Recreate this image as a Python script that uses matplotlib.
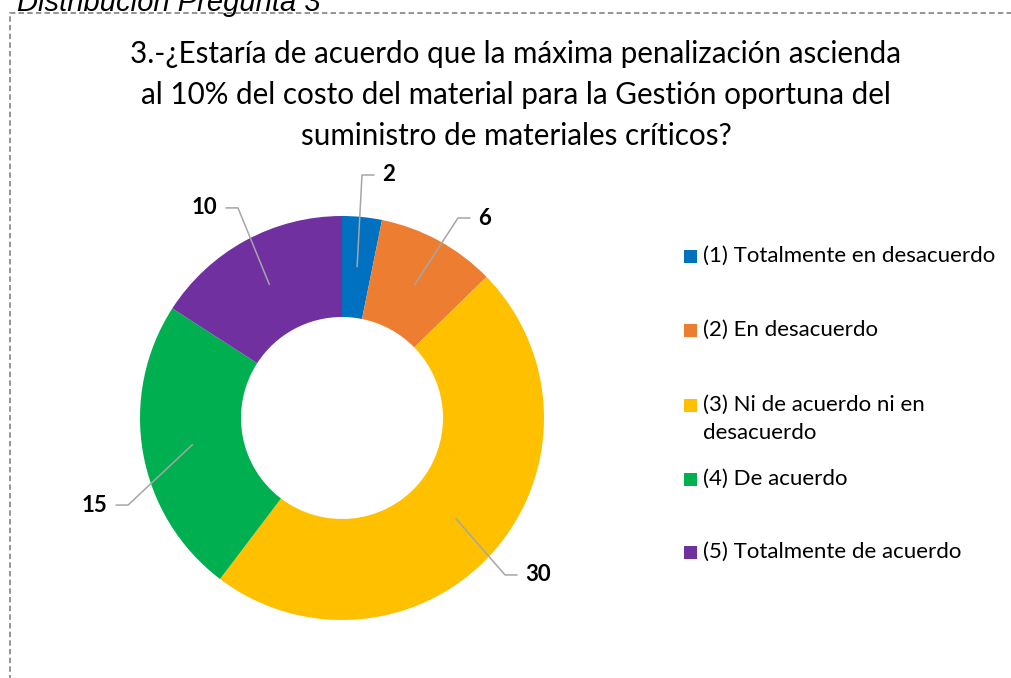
import matplotlib
matplotlib.use("Agg")
import matplotlib.pyplot as plt
import numpy as np
from matplotlib.patches import Rectangle

categories = ["(1) Totalmente en desacuerdo", "(2) En desacuerdo",
              "(3) Ni de acuerdo ni en\ndesacuerdo", "(4) De acuerdo",
              "(5) Totalmente de acuerdo"]
values = [2, 6, 30, 15, 10]
colors = ["#0070C0", "#ED7D31", "#FFC000", "#00B050", "#7030A0"]
title_lines = ["3.-¿Estaría de acuerdo que la máxima penalización ascienda",
               "al 10% del costo del material para la Gestión oportuna del",
               "suministro de materiales críticos?"]
caption = "Distribución Pregunta 3"

W, H = 1011, 678
fig = plt.figure(figsize=(W / 100, H / 100), dpi=100)
FONT = "Lato"

# pie axes: center at (342, 418) px, radius 202 px
cx, cy, R = 342, 418, 202
ax = fig.add_axes([0, 0, 1, 1])
ax.pie(values, colors=colors, startangle=90, counterclock=False,
       radius=1, wedgeprops=dict(width=0.5, linewidth=0))
ax.set_aspect("auto")
ax.set_xlim((0 - cx) / R, (W - cx) / R)
ax.set_ylim((cy - H) / R, (cy - 0) / R)
ax.axis("off")

# data labels with leader lines
total = sum(values)
elbows = [(0.099, 1.203, 1), (0.574, 0.990, 1), (0.807, -0.777, 1),
          (-1.059, -0.431, -1), (-0.515, 1.040, -1)]
cum = 0
for v, (ex, ey, side) in zip(values, elbows):
    mid = 90 - 360 * (cum + v / 2) / total
    cum += v
    a = np.deg2rad(mid)
    sx, sy = 0.75 * np.cos(a), 0.75 * np.sin(a)
    hx = ex + side * 0.062
    ax.plot([sx, ex, hx], [sy, ey, ey], color="#A6A6A6", lw=1.1,
            solid_capstyle="butt")
    ax.text(hx + side * 0.04, ey, str(v), ha="left" if side > 0 else "right",
            va="center", fontsize=16, fontweight="bold", family=FONT,
            color="black")

# title
for line, yb in zip(title_lines, [63, 104, 145]):
    fig.text(516 / W, 1 - yb / H, line, ha="center", va="baseline",
             fontsize=21.3, family=FONT, color="#000000")

# legend (manual)
leg_y = [256, 330, 405, 479, 552]
for lab, col, yy in zip(categories, colors, leg_y):
    fig.patches.append(Rectangle((684 / W, 1 - (yy + 7) / H), 13 / W, 13 / H,
                                 transform=fig.transFigure, facecolor=col,
                                 edgecolor="none"))
    fig.text(703 / W, 1 - (yy - 10.5) / H, lab, ha="left", va="top",
             fontsize=16, family=FONT, color="#000000", linespacing=1.54)

# caption (cut off at top)
fig.text(17 / W, 1 - 11 / H, caption, ha="left", va="baseline",
         fontsize=21, family="Liberation Sans", style="italic", color="black")

# dashed border
border = Rectangle((10 / W, -0.1), 1.2, 1 - 13 / H + 0.1,
                   transform=fig.transFigure, fill=False,
                   edgecolor="#8C8C8C", lw=1.3, linestyle=(0, (3, 1.8)))
fig.patches.append(border)

fig.savefig("out.png", dpi=100)
